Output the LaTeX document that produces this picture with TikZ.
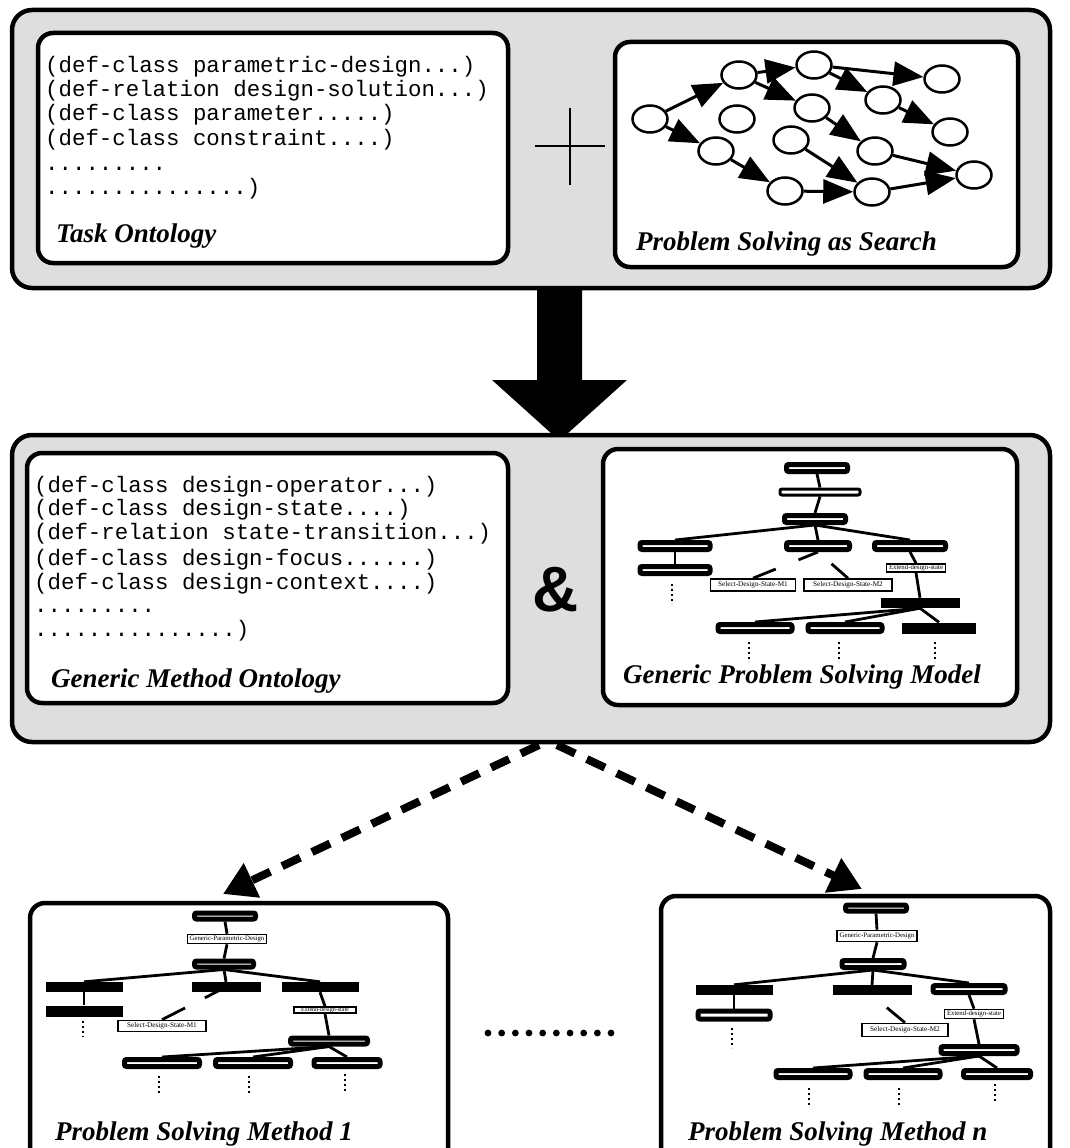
\documentclass[tikz,border=0pt]{standalone}
\usepackage{fontspec}
\setmainfont{Liberation Serif}
\newfontfamily\codefont{Liberation Mono}
\newfontfamily\ampfont{Liberation Sans}
\usetikzlibrary{arrows.meta,calc,shapes.geometric}
\definecolor{panelgray}{HTML}{DEDEDE}

\begin{document}
\begin{tikzpicture}[x=1pt,y=-1pt,
  outerpanel/.style={draw=black,line width=4.5pt,fill=panelgray,rounded corners=20pt,inner sep=0pt},
  panel/.style={draw=black,line width=4.5pt,fill=white,rounded corners=15pt,inner sep=0pt},
  code/.style={anchor=base west,inner sep=0pt,font=\codefont\fontsize{22.4}{25}\selectfont},
  title/.style={anchor=base west,inner sep=0pt,font=\bfseries\itshape\fontsize{27}{27}\selectfont},
  state/.style={ellipse,draw=black,line width=2.5pt,fill=white,minimum width=35pt,minimum height=27pt,inner sep=0pt},
  move/.style={line width=3pt,-{Triangle[length=30pt,width=24pt]}},
  tnode/.style={draw=black,fill=white,line width=5pt,rounded corners=2pt,inner sep=0pt,minimum height=7pt},
  tlab/.style={draw=black,fill=white,line width=1.6pt,inner sep=0pt,font=\fontsize{6.8}{7}\selectfont},
  tbar/.style={fill=black,inner sep=0pt,minimum height=10pt},
  tedge/.style={line width=2.8pt},
  more/.style={line width=2.4pt,dash pattern=on 2.4pt off 2.6pt},
  derive/.style={line width=8pt,dash pattern=on 20pt off 13pt,-{Triangle[length=32pt,width=36pt]}},
]
\useasboundingbox (0,0) rectangle (1069,1148);
\clip (0,0) rectangle (1069,1148);
\fill[white] (0,0) rectangle (1069,1148);

% ---------- upper block: task ontology + search ----------
\node[outerpanel,minimum width=1038pt,minimum height=278pt] (upper) at (531,149) {};
\node[panel,minimum width=470pt,minimum height=230pt] (task) at (273,148) {};
\node[panel,minimum width=403pt,minimum height=225pt] (search) at (816.5,154.5) {};

\foreach \i/\yy/\txt in {1/72/{(def-class parametric-design...)},
                         2/96/{(def-relation design-solution...)},
                         3/120/{(def-class parameter.....)},
                         4/145/{(def-class constraint....)},
                         5/170/{.........},
                         6/194/{...............)}}
  \node[code] (tl\i) at (45,\yy) {\txt};
\node[title] (tasktitle) at (56,242) {Task Ontology};

% plus sign
\draw[line width=2.5pt] (535,146) -- (605,146);
\draw[line width=2.5pt] (570,108) -- (570,185);

% search space
\node[state] (s1)  at (650,119) {};
\node[state] (s2)  at (739,75)  {};
\node[state] (s3)  at (814,65)  {};
\node[state] (s4)  at (942,79)  {};
\node[state] (s5)  at (737,119) {};
\node[state] (s6)  at (812,108) {};
\node[state] (s7)  at (883,100) {};
\node[state] (s8)  at (716,151) {};
\node[state] (s9)  at (791,140) {};
\node[state] (s10) at (950,132) {};
\node[state] (s11) at (875,151) {};
\node[state] (s12) at (785,191) {};
\node[state] (s13) at (872,192) {};
\node[state] (s14) at (974,175) {};
\draw[move] (s1) -- (s2);
\draw[move] (s1) -- (s8);
\draw[move] (s2) -- (s3);
\draw[move] (s2) -- (s6);
\draw[move] (s3) -- (s4);
\draw[move] (s3) -- (s7);
\draw[move] (s7) -- (s10);
\draw[move] (s6) -- (s11);
\draw[move] (s11) -- (s14);
\draw[move] (s8) -- (s12);
\draw[move] (s9) -- (s13);
\draw[move] (s12) -- (s13);
\draw[move] (s13) -- (s14);
\node[title] (searchtitle) at (636,250) {Problem Solving as Search};

% ---------- block arrow ----------
\fill[black] (537,287) -- (582,287) -- (582,380) -- (627,380) -- (567,434)
  -- (552,434) -- (492,380) -- (537,380) -- cycle;

% ---------- middle block: method ontology + generic model ----------
\node[outerpanel,minimum width=1038pt,minimum height=307pt] (middle) at (531,588.5) {};
\node[panel,minimum width=481pt,minimum height=250pt] (gmo) at (267.5,578) {};
\node[panel,minimum width=414pt,minimum height=256pt] (gpsm) at (810,577) {};

\foreach \i/\yy/\txt in {1/492/{(def-class design-operator...)},
                         2/515/{(def-class design-state....)},
                         3/539/{(def-relation state-transition...)},
                         4/565/{(def-class design-focus......)},
                         5/589/{(def-class design-context....)},
                         6/612/{.........},
                         7/636/{...............)}}
  \node[code] (ml\i) at (34,\yy) {\txt};
\node[title] (gmotitle) at (51,687) {Generic Method Ontology};

\node[font=\ampfont\bfseries\fontsize{64}{64}\selectfont,inner sep=0pt] (amp) at (556,590) {\&};

% generic model tree
\node[tnode,minimum width=61pt] (gA) at (817,468) {};
\node[tnode,line width=3pt,minimum width=80pt,minimum height=6pt] (gB) at (820,492) {};
\node[tnode,minimum width=61pt] (gC) at (815,519) {};
\node[tnode,minimum width=70pt] (gD1) at (675,546) {};
\node[tnode,minimum width=63pt] (gD2) at (818,546) {};
\node[tnode,minimum width=71pt] (gD3) at (910,546) {};
\node[tnode,minimum width=70pt] (gE1) at (675,570) {};
\node[tlab,minimum width=85pt,minimum height=12pt,font=\fontsize{7.2}{8}\selectfont] (gF1) at (753,585) {Select-Design-State-M1};
\node[tlab,minimum width=88pt,minimum height=12pt,font=\fontsize{7.2}{8}\selectfont] (gF2) at (848,585) {Select-Design-State-M2};
\node[tlab,minimum width=59pt,minimum height=8pt] (gG) at (916,568) {Extend-design-state};
\node[tbar,minimum width=79pt] (gH) at (920,603) {};
\node[tnode,minimum width=74pt] (gI1) at (755,628) {};
\node[tnode,minimum width=74pt] (gI2) at (845,628) {};
\node[tbar,minimum width=74pt,minimum height=11pt] (gI3) at (939,628) {};
\draw[tedge] (gA.south) -- (gB.north);
\draw[tedge] (gB.south) -- (gC.north);
\draw[tedge] (gC.south) -- (gD1.north);
\draw[tedge] (gC.south) -- (gD2.north);
\draw[tedge] (gC.south) -- (gD3.north);
\draw[tedge] (gD1.south) -- (gE1.north);
\draw[tedge] (gD2.south) -- ($(gD2.south)!0.3!(gF1.north)$);
\draw[tedge] ($(gD2.south)!0.65!(gF1.north)$) -- (gF1.north);
\draw[tedge] ($(gD2.south)!0.45!(gF2.north)$) -- (gF2.north);
\draw[tedge] (gD3.south) -- (gG.north);
\draw[tedge] (gG.south) -- (gH.north);
\draw[tedge] (gH.south) -- (gI1.north);
\draw[tedge] (gH.south) -- (gI2.north);
\draw[tedge] (gH.south) -- (gI3.north);
\draw[more] ($(gE1.south)+(-3,8)$) -- ++(0,20);
\draw[more] ($(gI1.south)+(-6,8)$) -- ++(0,20);
\draw[more] ($(gI2.south)+(-6,8)$) -- ++(0,20);
\draw[more] ($(gI3.south)+(-4,8)$) -- ++(0,20);
\node[title] (gpsmtitle) at (623,683) {Generic Problem Solving Model};

% ---------- derived methods ----------
\coordinate (fromL) at (539,745);
\coordinate (fromR) at (557,745);
\coordinate (toL) at (223,894);
\coordinate (toR) at (862,889);
\draw[derive] (fromL) -- (toL);
\draw[derive] (fromR) -- (toR);

\node[panel,minimum width=418pt,minimum height=267pt] (psm1) at (239,1036.5) {};
\node[panel,minimum width=389pt,minimum height=274pt] (psmn) at (855.5,1033) {};

% method 1 tree
\node[tnode,minimum width=61pt,minimum height=6pt] (pA) at (225,916) {};
\node[tlab,minimum width=79pt,minimum height=9pt] (pB) at (227,939) {Generic-Parametric-Design};
\node[tnode,minimum width=59pt,minimum height=6pt] (pC) at (224,964) {};
\node[tbar,minimum width=77pt] (pD1) at (84,987) {};
\node[tbar,minimum width=69pt] (pD2) at (226,987) {};
\node[tbar,minimum width=77pt] (pD3) at (320,987) {};
\node[tbar,minimum width=77pt,minimum height=11pt] (pE1) at (84,1011) {};
\node[tlab,minimum width=88pt,minimum height=11pt,font=\fontsize{7.2}{8}\selectfont] (pF1) at (162,1026) {Select-Design-State-M1};
\node[tlab,minimum width=62pt,minimum height=6pt,font=\fontsize{6}{6}\selectfont] (pG) at (325,1010) {Extend-design-state};
\node[tnode,minimum width=77pt,minimum height=6pt] (pH) at (329,1041) {};
\node[tnode,minimum width=75pt] (pI1) at (162,1063) {};
\node[tnode,minimum width=75pt] (pI2) at (253,1063) {};
\node[tnode,minimum width=66pt] (pI3) at (347,1063) {};
\draw[tedge] (pA.south) -- (pB.north);
\draw[tedge] (pB.south) -- (pC.north);
\draw[tedge] (pC.south) -- (pD1.north);
\draw[tedge] (pC.south) -- (pD2.north);
\draw[tedge] (pC.south) -- (pD3.north);
\draw[tedge] (pD1.south) -- (pE1.north);
\draw[tedge] (pD2.center) -- ($(pD2.center)!0.33!(pF1.north)$);
\draw[tedge] ($(pD2.center)!0.64!(pF1.north)$) -- (pF1.north);
\draw[tedge] (pD3.south) -- (pG.north);
\draw[tedge] (pG.south) -- (pH.north);
\draw[tedge] (pH.south) -- (pI1.north);
\draw[tedge] (pH.south) -- (pI2.north);
\draw[tedge] (pH.south) -- (pI3.north);
\draw[more] ($(pE1.south)+(-1,4)$) -- ++(0,16);
\draw[more] ($(pI1.south)+(-3,7)$) -- ++(0,19);
\draw[more] ($(pI2.south)+(-4,7)$) -- ++(0,19);
\draw[more] ($(pI3.south)+(-2,5)$) -- ++(0,19);
\node[title] (psm1title) at (55,1140) {Problem Solving Method 1};

% method n tree
\node[tnode,minimum width=61pt,minimum height=6pt] (nA) at (876,908) {};
\node[tlab,minimum width=80pt,minimum height=11pt] (nB) at (877,936) {Generic-Parametric-Design};
\node[tnode,minimum width=62pt] (nC) at (873,964) {};
\node[tbar,minimum width=77pt] (nD1) at (734,990) {};
\node[tbar,minimum width=79pt] (nD2) at (872,990) {};
\node[tnode,minimum width=72pt] (nD3) at (969,989) {};
\node[tnode,minimum width=72pt,minimum height=8pt] (nE1) at (734,1015) {};
\node[tlab,minimum width=86pt,minimum height=13pt,font=\fontsize{7.2}{8}\selectfont] (nF2) at (905,1030) {Select-Design-State-M2};
\node[tlab,minimum width=59pt,minimum height=9pt] (nG) at (974,1014) {Extend-design-state};
\node[tnode,minimum width=76pt] (nH) at (979,1050) {};
\node[tnode,minimum width=74pt] (nI1) at (813,1074) {};
\node[tnode,minimum width=74pt] (nI2) at (903,1074) {};
\node[tnode,minimum width=67pt] (nI3) at (997,1074) {};
\draw[tedge] (nA.south) -- (nB.north);
\draw[tedge] (nB.south) -- (nC.north);
\draw[tedge] (nC.south) -- (nD1.north);
\draw[tedge] (nC.south) -- (nD2.north);
\draw[tedge] (nC.south) -- (nD3.north);
\draw[tedge] (nD1.south) -- (nE1.north);
\draw[tedge] ($(nD2.south)!0.45!(nF2.north)$) -- (nF2.north);
\draw[tedge] (nD3.south) -- (nG.north);
\draw[tedge] (nG.south) -- (nH.north);
\draw[tedge] (nH.south) -- (nI1.north);
\draw[tedge] (nH.south) -- (nI2.north);
\draw[tedge] (nH.south) -- (nI3.north);
\draw[more] ($(nE1.south)+(-2,6)$) -- ++(0,20);
\draw[more] ($(nI1.south)+(-4,8)$) -- ++(0,19);
\draw[more] ($(nI2.south)+(-4,8)$) -- ++(0,19);
\draw[more] ($(nI3.south)+(-2,4)$) -- ++(0,19);
\node[title] (psmntitle) at (688,1140) {Problem Solving Method n};

% ellipsis between the methods
\foreach \k in {0,...,9}
  \fill[black] ({488+13.67*\k},1033) circle (3.4pt);
\end{tikzpicture}
\end{document}
